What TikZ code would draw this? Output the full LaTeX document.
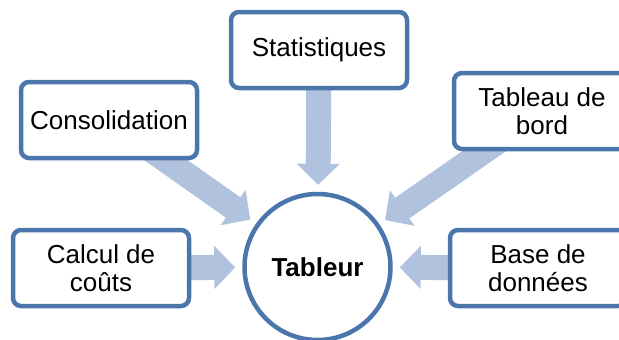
\documentclass[tikz,border=0pt]{standalone}
\usepackage{fontspec}
\setmainfont{Liberation Sans}
\usepackage{tikz}
\usetikzlibrary{arrows.meta,backgrounds}
\usepackage{xcolor}
\definecolor{BoxBlue}{HTML}{4A76AC}
\definecolor{ArrowBlue}{HTML}{B0C2DE}

\begin{document}
\begin{tikzpicture}[x=1pt,y=-1pt,
    toolbox/.style={draw=BoxBlue,line width=4.5pt,rounded corners=8pt,fill=white,
      minimum width=176pt,minimum height=76pt,align=center,
      font=\fontsize{26}{28}\selectfont},
    hub/.style={circle,draw=BoxBlue,line width=4.5pt,fill=white,inner sep=0pt,
      minimum size=146pt,font=\fontsize{26}{28}\selectfont\bfseries},
    flow/.style={draw=ArrowBlue,line width=25pt,shorten >=7pt,
      -{Triangle[width=42pt,length=21pt]}}]
    \clip (0,0) rectangle (619,340);

    \node[hub] (tableur) at (317.5,267) {Tableur};
    \node[toolbox] (stat) at (319,50) {Statistiques};
    \node[toolbox] (conso) at (109,120) {Consolidation};
    \node[toolbox] (tabbord) at (542,111) {Tableau de\\bord};
    \node[toolbox] (calcul) at (101,268) {Calcul de\\coûts};
    \node[toolbox] (base) at (538,268) {Base de\\données};

    \begin{scope}[on background layer]
      \draw[flow] (stat.center) -- (tableur);
      \draw[flow] (conso.center) -- (tableur);
      \draw[flow] (tabbord.center) -- (tableur);
      \draw[flow] (calcul.center) -- (tableur);
      \draw[flow] (base.center) -- (tableur);
    \end{scope}
\end{tikzpicture}
\end{document}
